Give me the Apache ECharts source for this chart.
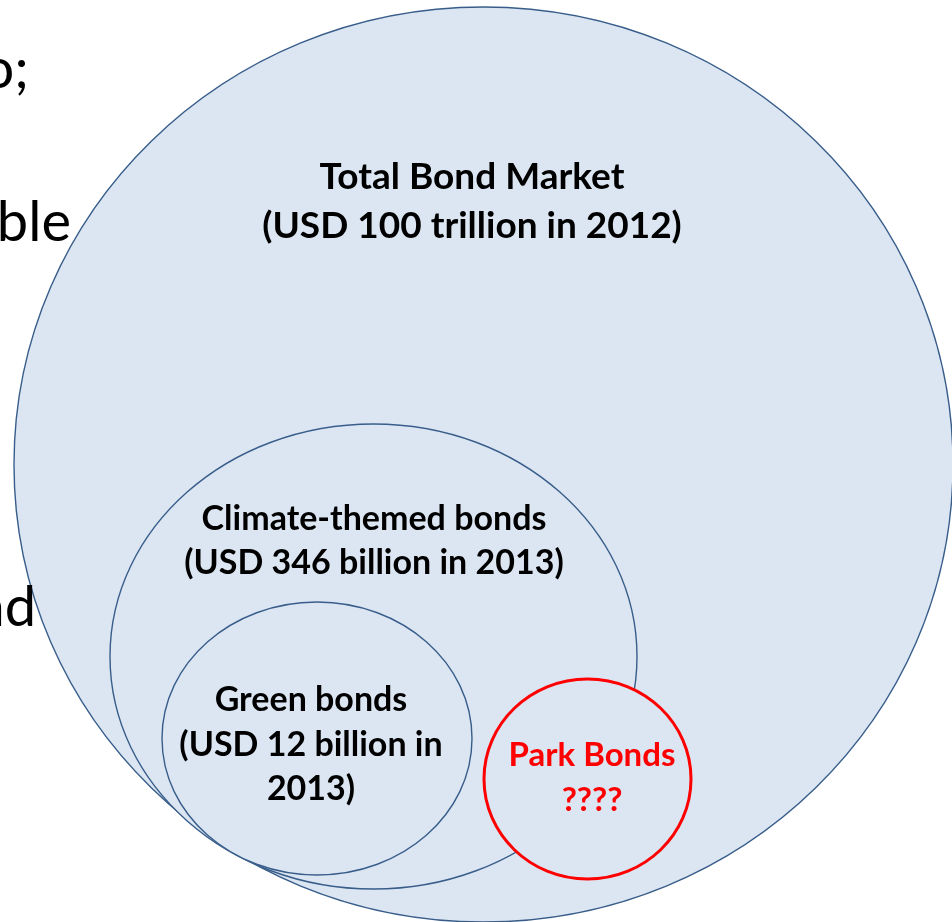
<!DOCTYPE html>
<html><head><meta charset="utf-8">
<script src="https://cdn.jsdelivr.net/npm/echarts@6/dist/echarts.min.js"></script>
<style>html,body{margin:0;padding:0;background:#fff;overflow:hidden}#c{width:952px;height:922px}</style>
</head><body><div id="c"></div>
<script>
// Nested bond-market ellipses (values in chart units, x: 0..952, y: 0..922 top-down)
const shapeNames = ['Total Bond Market', 'Climate-themed bonds', 'Green bonds', 'Park Bonds'];
const centerX = [483.5, 373.5, 317, 587.5];
const centerY = [464.5, 656.5, 738.5, 779];
const radiusX = [469.5, 263.5, 155, 103.5];
const radiusY = [457.5, 232.5, 136.5, 100];
const labelLines = [
  ['Total Bond Market', '(USD 100 trillion in 2012)'],
  ['Climate-themed bonds', '(USD 346 billion in 2013)'],
  ['Green bonds', '(USD 12 billion in', '2013)'],
  ['Park Bonds', '????']
];
const labelX = [472, 374, 311, 592];
const labelY = [[177, 226], [519, 563], [700, 745, 789], [755, 800]];
const labelSize = [37, 34, 34, 33];
// Cut-off slide text on the left edge
const sideTexts = ['o;', 'ble', 'nd'];
const sideX = [29, 71, 36];
const sideY = [70, 223, 608];

const chart = echarts.init(document.getElementById('c'), null, {renderer: 'canvas'});

const ellipseData = shapeNames.map((n, i) => [centerX[i], centerY[i], radiusX[i], radiusY[i], i]);
const sideData = sideTexts.map((t, i) => [sideX[i], sideY[i], i]);

const blue = '#385D8A', fillC = '#DCE6F2', red = '#FF0000';

chart.setOption({
  animation: false,
  backgroundColor: '#ffffff',
  grid: {left: 0, right: 0, top: 0, bottom: 0},
  xAxis: {type: 'value', min: 0, max: 952, show: false},
  yAxis: {type: 'value', min: 0, max: 922, inverse: true, show: false},
  series: [
    {
      type: 'custom',
      coordinateSystem: 'cartesian2d',
      clip: false,
      data: ellipseData,
      renderItem: function (params, api) {
        const i = api.value(4);
        const c = api.coord([api.value(0), api.value(1)]);
        const s = api.size([api.value(2), api.value(3)]);
        const isPark = i === 3;
        const children = [{
          type: 'ellipse',
          shape: {cx: c[0], cy: c[1], rx: s[0], ry: s[1]},
          style: {fill: fillC, stroke: isPark ? red : blue, lineWidth: isPark ? 3 : 1.4}
        }];
        labelLines[i].forEach((line, k) => {
          const p = api.coord([labelX[i], labelY[i][k]]);
          children.push({
            type: 'text',
            x: p[0], y: p[1],
            style: {
              text: line,
              font: 'bold ' + labelSize[i] + 'px Lato, "Open Sans", sans-serif',
              fill: isPark ? red : '#000000',
              align: 'center',
              verticalAlign: 'middle'
            }
          });
        });
        return {type: 'group', children: children};
      }
    },
    {
      type: 'custom',
      coordinateSystem: 'cartesian2d',
      clip: false,
      data: sideData,
      renderItem: function (params, api) {
        const i = api.value(2);
        const p = api.coord([api.value(0), api.value(1)]);
        return {
          type: 'text',
          x: p[0], y: p[1],
          style: {
            text: sideTexts[i],
            font: '56px Lato, "Open Sans", sans-serif',
            fill: '#000000',
            align: 'right',
            verticalAlign: 'middle'
          }
        };
      }
    }
  ]
});
</script>
</body></html>
